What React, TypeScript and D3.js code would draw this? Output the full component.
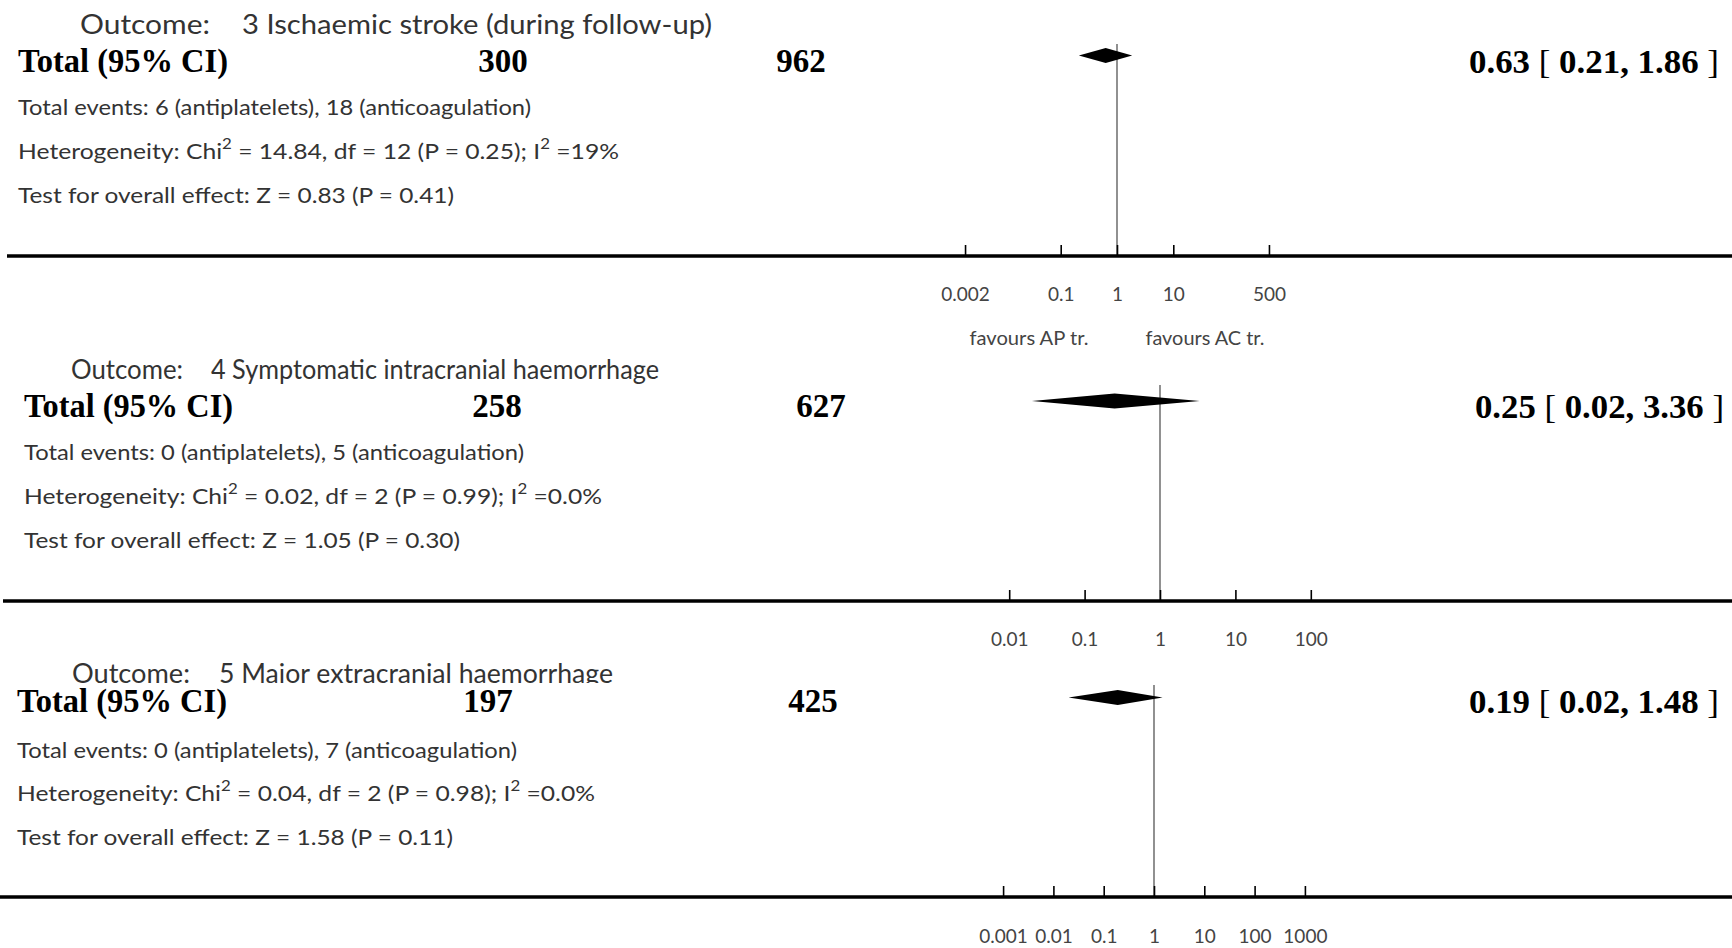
import React, { useEffect, useRef } from "react";
import * as d3 from "d3";

// forest plot summary rows, three outcomes
const outcomeNames = [
  "3 Ischaemic stroke (during follow-up)",
  "4 Symptomatic intracranial haemorrhage",
  "5 Major extracranial haemorrhage",
];
const totalAP = [300, 258, 197];
const totalAC = [962, 627, 425];
const pooledRR = [0.63, 0.25, 0.19];
const ciLow = [0.21, 0.02, 0.02];
const ciHigh = [1.86, 3.36, 1.48];
const eventsAP = [6, 0, 0];
const eventsAC = [18, 5, 7];
const chiSq = ["14.84", "0.02", "0.04"];
const dfValues = [12, 2, 2];
const hetP = ["0.25", "0.99", "0.98"];
const iSq = ["19%", "0.0%", "0.0%"];
const zValues = ["0.83", "1.05", "1.58"];
const zP = ["0.41", "0.30", "0.11"];
const axisTicks = [
  [0.002, 0.1, 1, 10, 500],
  [0.01, 0.1, 1, 10, 100],
  [0.001, 0.01, 0.1, 1, 10, 100, 1000],
];
const axisTickLabels = [
  ["0.002", "0.1", "1", "10", "500"],
  ["0.01", "0.1", "1", "10", "100"],
  ["0.001", "0.01", "0.1", "1", "10", "100", "1000"],
];
const favoursLabels = ["favours AP tr.", "favours AC tr."];

// layout of each panel (pixels)
const layout = [
  { lineX: 7, textX: 18, outX: 80, nameX: 242, outW: 130, nameW: 470, titleY: 23, totalY: 61, evY: 106, hetY: 150, testY: 194,
    axisY: 256, labelY: 293, favY: 337, refTop: 44, diamondY: 55.5, oneX: 1117, decade: 56.3, apX: 503, acX: 801,
    valRight: 1719, valW: 250, evW: 513, hetW: 601, testW: 436, totalW: 210, clipY: 0 },
  { lineX: 3, textX: 24, outX: 71, nameX: 211, outW: 112, nameW: 448, titleY: 368, totalY: 406, evY: 451, hetY: 495, testY: 539,
    axisY: 601, labelY: 638, favY: 0, refTop: 385, diamondY: 401, oneX: 1160, decade: 75.4, apX: 497, acX: 821,
    valRight: 1724, valW: 249, evW: 500, hetW: 578, testW: 436, totalW: 209, clipY: 0 },
  { lineX: 0, textX: 17, outX: 72, nameX: 219, outW: 118, nameW: 394, titleY: 672, totalY: 701, evY: 749, hetY: 792, testY: 836,
    axisY: 897, labelY: 935, favY: 0, refTop: 685, diamondY: 697.5, oneX: 1154, decade: 50.3, apX: 488, acX: 813,
    valRight: 1719, valW: 250, evW: 500, hetW: 578, testW: 436, totalW: 210, clipY: 683 },
];

const SANS = "Lato, 'Open Sans', sans-serif";
const SERIF = "'Liberation Serif', 'DejaVu Serif', serif";
const GREY = "#333";

export default function App() {
  const ref = useRef<SVGSVGElement>(null);

  useEffect(() => {
    const svg = d3.select(ref.current);
    svg.selectAll("*").remove();
    const width = 1732;

    layout.forEach((p, i) => {
      const g = svg.append("g");
      const x = d3.scaleLog()
        .domain([1e-3, 1e3])
        .range([p.oneX - 3 * p.decade, p.oneX + 3 * p.decade]);

      // outcome title
      const title = g.append("g");
      if (p.clipY) {
        svg.append("clipPath").attr("id", "clip" + i)
          .append("rect").attr("x", 0).attr("y", 0).attr("width", width).attr("height", p.clipY);
        title.attr("clip-path", `url(#clip${i})`);
      }
      title.append("text")
        .attr("x", p.outX).attr("y", p.titleY)
        .attr("dominant-baseline", "central")
        .attr("font-family", SANS).attr("font-size", 27).attr("fill", GREY)
        .attr("textLength", p.outW).attr("lengthAdjust", "spacingAndGlyphs")
        .text("Outcome:");
      title.append("text")
        .attr("x", p.nameX).attr("y", p.titleY)
        .attr("dominant-baseline", "central")
        .attr("font-family", SANS).attr("font-size", 27).attr("fill", GREY)
        .attr("textLength", p.nameW).attr("lengthAdjust", "spacingAndGlyphs")
        .text(outcomeNames[i]);

      // total row
      g.append("text")
        .attr("x", p.textX).attr("y", p.totalY)
        .attr("dominant-baseline", "central")
        .attr("font-family", SERIF).attr("font-weight", "bold").attr("font-size", 33)
        .attr("textLength", p.totalW).attr("lengthAdjust", "spacingAndGlyphs")
        .text("Total (95% CI)");
      [[p.apX, totalAP[i]], [p.acX, totalAC[i]]].forEach(([cx, v]) => {
        g.append("text")
          .attr("x", cx).attr("y", p.totalY)
          .attr("text-anchor", "middle").attr("dominant-baseline", "central")
          .attr("font-family", SERIF).attr("font-weight", "bold").attr("font-size", 33)
          .text(String(v));
      });

      const val = g.append("text")
        .attr("x", p.valRight).attr("y", p.totalY + 1)
        .attr("text-anchor", "end").attr("dominant-baseline", "central")
        .attr("font-family", SERIF).attr("font-size", 33)
        .attr("textLength", p.valW).attr("lengthAdjust", "spacingAndGlyphs");
      val.append("tspan").attr("font-weight", "bold").text(pooledRR[i].toFixed(2) + " ");
      val.append("tspan").text("[ ");
      val.append("tspan").attr("font-weight", "bold").text(`${ciLow[i].toFixed(2)}, ${ciHigh[i].toFixed(2)}`);
      val.append("tspan").text(" ]");

      // summary lines
      const small = (y: number, w: number) =>
        g.append("text")
          .attr("x", p.textX).attr("y", y)
          .attr("dominant-baseline", "central")
          .attr("font-family", SANS).attr("font-size", 22).attr("fill", GREY)
          .attr("textLength", w).attr("lengthAdjust", "spacingAndGlyphs");

      small(p.evY, p.evW).text(`Total events: ${eventsAP[i]} (antiplatelets), ${eventsAC[i]} (anticoagulation)`);

      const het = small(p.hetY, p.hetW);
      het.append("tspan").text("Heterogeneity: Chi");
      het.append("tspan").attr("font-size", 15).attr("dy", -7).text("2");
      het.append("tspan").attr("dy", 7).text(` = ${chiSq[i]}, df = ${dfValues[i]} (P = ${hetP[i]}); I`);
      het.append("tspan").attr("font-size", 15).attr("dy", -7).text("2");
      het.append("tspan").attr("dy", 7).text(` =${iSq[i]}`);

      small(p.testY, p.testW).text(`Test for overall effect: Z = ${zValues[i]} (P = ${zP[i]})`);

      // reference line at 1
      g.append("line")
        .attr("x1", x(1)).attr("x2", x(1))
        .attr("y1", p.refTop).attr("y2", p.axisY)
        .attr("stroke", "#555").attr("stroke-width", 1.3);

      // pooled diamond
      const h = 7.5;
      const pts: [number, number][] = [
        [x(ciLow[i]), p.diamondY],
        [x(pooledRR[i]), p.diamondY - h],
        [x(ciHigh[i]), p.diamondY],
        [x(pooledRR[i]), p.diamondY + h],
      ];
      g.append("path")
        .attr("d", d3.line()(pts) + "Z")
        .attr("fill", "#000");

      // axis
      const ax = g.append("g")
        .attr("transform", `translate(0,${p.axisY})`)
        .call(
          d3.axisBottom(x)
            .tickValues(axisTicks[i])
            .tickSize(-11)
            .tickFormat((_d, k) => axisTickLabels[i][k])
        );
      ax.select(".domain").remove();
      ax.selectAll(".tick line").attr("stroke", "#000").attr("stroke-width", 1.6);
      ax.selectAll(".tick text")
        .attr("y", p.labelY - p.axisY).attr("dy", null)
        .attr("dominant-baseline", "central")
        .attr("font-family", SANS).attr("font-size", 19).attr("fill", "#444");

      g.append("line")
        .attr("x1", p.lineX).attr("x2", width)
        .attr("y1", p.axisY).attr("y2", p.axisY)
        .attr("stroke", "#000").attr("stroke-width", 3.5);

      if (p.favY) {
        const side = [x(1) - 88, x(1) + 88];
        favoursLabels.forEach((lab, k) => {
          g.append("text")
            .attr("x", side[k]).attr("y", p.favY)
            .attr("text-anchor", "middle").attr("dominant-baseline", "central")
            .attr("font-family", SANS).attr("font-size", 19).attr("fill", "#444")
            .attr("textLength", 119).attr("lengthAdjust", "spacingAndGlyphs")
            .text(lab);
        });
      }
    });
  }, []);

  return (
    <svg
      ref={ref}
      width={1732}
      height={948}
      style={{ position: "absolute", left: 0, top: 0, background: "#fff" }}
    />
  );
}
